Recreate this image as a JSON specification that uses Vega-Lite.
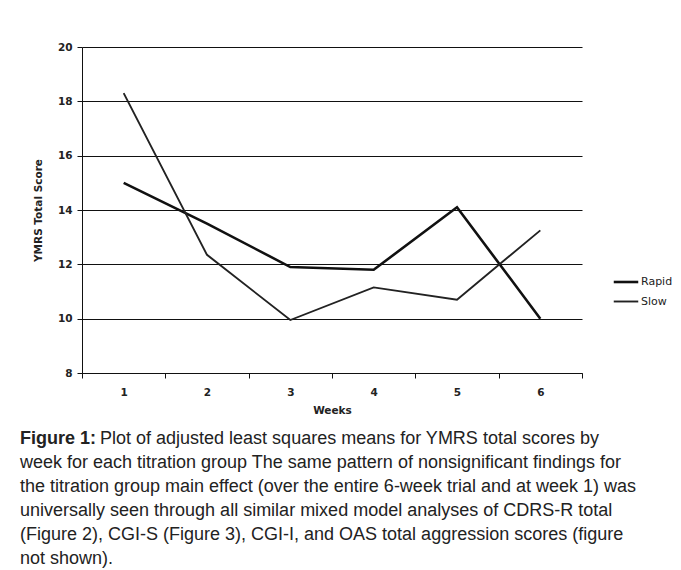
{
  "$schema": "https://vega.github.io/schema/vega-lite/v6.json",
  "width": 500,
  "height": 326,
  "autosize": {"type": "none"},
  "padding": {"left": 82, "top": 47, "right": 99, "bottom": 197},
  "background": "white",
  "data": {"values": [
    {"week": "1", "group": "Rapid", "score": 15.0},
    {"week": "2", "group": "Rapid", "score": 13.5},
    {"week": "3", "group": "Rapid", "score": 11.9},
    {"week": "4", "group": "Rapid", "score": 11.8},
    {"week": "5", "group": "Rapid", "score": 14.1},
    {"week": "6", "group": "Rapid", "score": 10.0},
    {"week": "1", "group": "Slow", "score": 18.3},
    {"week": "2", "group": "Slow", "score": 12.35},
    {"week": "3", "group": "Slow", "score": 9.95},
    {"week": "4", "group": "Slow", "score": 11.15},
    {"week": "5", "group": "Slow", "score": 10.7},
    {"week": "6", "group": "Slow", "score": 13.25}
  ]},
  "title": {
    "text": "Figure 1:",
    "subtitle": [
      "\u200b\u00a0\u00a0\u00a0\u00a0\u00a0\u00a0\u00a0\u00a0\u00a0\u00a0\u00a0\u00a0\u00a0\u00a0\u00a0\u00a0Plot of adjusted least squares means for YMRS total scores by",
      "week for each titration group The same pattern of nonsignificant findings for",
      "the titration group main effect (over the entire 6-week trial and at week 1) was",
      "universally seen through all similar mixed model analyses of CDRS-R total",
      "(Figure 2), CGI-S (Figure 3), CGI-I, and OAS total aggression scores (figure",
      "not shown)."
    ],
    "orient": "bottom",
    "anchor": "start",
    "frame": "group",
    "dx": -62,
    "offset": 14,
    "font": "Liberation Sans",
    "fontSize": 18,
    "fontWeight": "bold",
    "color": "#222",
    "subtitleFont": "Liberation Sans",
    "subtitleFontSize": 18,
    "subtitleFontWeight": "normal",
    "subtitleColor": "#222",
    "subtitleLineHeight": 24,
    "subtitlePadding": -18
  },
  "encoding": {
    "x": {
      "field": "week",
      "type": "ordinal",
      "bandPosition": 0.5,
      "scale": {"type": "band", "paddingInner": 0, "paddingOuter": 0},
      "axis": {
        "title": "Weeks",
        "labelAngle": 0,
        "tickBand": "extent",
        "domainColor": "#111",
        "tickColor": "#111",
        "tickSize": 5,
        "labelFont": "DejaVu Sans",
        "labelFontSize": 10.5,
        "labelFontWeight": "bold",
        "labelColor": "#222",
        "labelPadding": 9,
        "titleFont": "DejaVu Sans",
        "titleFontSize": 10.5,
        "titleFontWeight": "bold",
        "titleColor": "#222",
        "titlePadding": 8
      }
    },
    "y": {
      "field": "score",
      "type": "quantitative",
      "scale": {"domain": [8, 20], "nice": false, "zero": false},
      "axis": {
        "title": "YMRS Total Score",
        "values": [8, 10, 12, 14, 16, 18, 20],
        "grid": true,
        "gridColor": "#111",
        "gridOpacity": 1,
        "gridWidth": 1,
        "domainColor": "#111",
        "tickColor": "#111",
        "tickSize": 5,
        "labelFont": "DejaVu Sans",
        "labelFontSize": 10.5,
        "labelFontWeight": "bold",
        "labelColor": "#222",
        "labelPadding": 5,
        "titleFont": "DejaVu Sans",
        "titleFontSize": 10.5,
        "titleFontWeight": "bold",
        "titleColor": "#222",
        "titlePadding": 14
      }
    },
    "color": {
      "field": "group",
      "type": "nominal",
      "scale": {"range": ["#111", "#222"]},
      "legend": {
        "title": null,
        "orient": "none",
        "legendX": 530,
        "legendY": 221,
        "symbolType": "stroke",
        "symbolSize": 600,
        "symbolStrokeWidth": 2.5,
        "labelFont": "DejaVu Sans",
        "labelFontSize": 11,
        "labelColor": "#222",
        "labelOffset": 1,
        "rowPadding": -6
      }
    },
    "strokeWidth": {
      "field": "group",
      "type": "nominal",
      "scale": {"range": [2.6, 1.9]},
      "legend": null
    }
  },
  "mark": {"type": "line"},
  "config": {"view": {"stroke": null}}
}
